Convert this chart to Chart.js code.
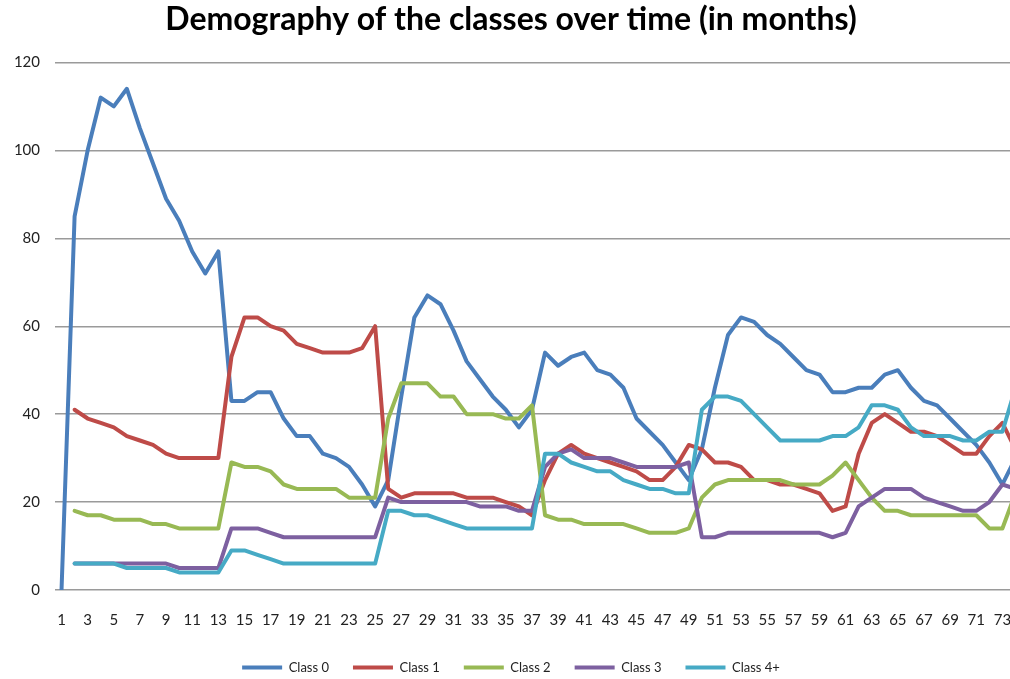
<!DOCTYPE html>
<html>
<head>
<meta charset="utf-8">
<script src="https://cdn.jsdelivr.net/npm/chart.js@4"></script>
<style>
    html, body { margin: 0; padding: 0; background: #fff; overflow: hidden; }
    #demoChart { display: block; }
</style>
</head>
<body>
<canvas id="demoChart" width="1032" height="679"></canvas>
<script>
// Months on the x axis (the chart is cut off after 73)
const months = [...Array(74)].map((_, i) => String(i + 1));

// Values
const class0 = [0, 85, 100, 112, 110, 114, 105, 97, 89, 84, 77, 72, 77, 43, 43, 45, 45, 39, 35, 35,
    31, 30, 28, 24, 19, 25, 44, 62, 67, 65, 59, 52, 48, 44, 41, 37, 41, 54, 51, 53,
    54, 50, 49, 46, 39, 36, 33, 29, 25, 32, 46, 58, 62, 61, 58, 56, 53, 50, 49, 45,
    45, 46, 46, 49, 50, 46, 43, 42, 39, 36, 33, 29, 24, 30];
const class1 = [null, 41, 39, 38, 37, 35, 34, 33, 31, 30, 30, 30, 30, 53, 62, 62, 60, 59, 56, 55,
    54, 54, 54, 55, 60, 23, 21, 22, 22, 22, 22, 21, 21, 21, 20, 19, 17, 25, 31, 33,
    31, 30, 29, 28, 27, 25, 25, 28, 33, 32, 29, 29, 28, 25, 25, 24, 24, 23, 22, 18,
    19, 31, 38, 40, 38, 36, 36, 35, 33, 31, 31, 35, 38, 32];
const class2 = [null, 18, 17, 17, 16, 16, 16, 15, 15, 14, 14, 14, 14, 29, 28, 28, 27, 24, 23, 23,
    23, 23, 21, 21, 21, 39, 47, 47, 47, 44, 44, 40, 40, 40, 39, 39, 42, 17, 16, 16,
    15, 15, 15, 15, 14, 13, 13, 13, 14, 21, 24, 25, 25, 25, 25, 25, 24, 24, 24, 26,
    29, 25, 21, 18, 18, 17, 17, 17, 17, 17, 17, 14, 14, 22];
const class3 = [null, 6, 6, 6, 6, 6, 6, 6, 6, 5, 5, 5, 5, 14, 14, 14, 13, 12, 12, 12,
    12, 12, 12, 12, 12, 21, 20, 20, 20, 20, 20, 20, 19, 19, 19, 18, 18, 28, 31, 32,
    30, 30, 30, 29, 28, 28, 28, 28, 29, 12, 12, 13, 13, 13, 13, 13, 13, 13, 13, 12,
    13, 19, 21, 23, 23, 23, 21, 20, 19, 18, 18, 20, 24, 23];
const class4 = [null, 6, 6, 6, 6, 5, 5, 5, 5, 4, 4, 4, 4, 9, 9, 8, 7, 6, 6, 6,
    6, 6, 6, 6, 6, 18, 18, 17, 17, 16, 15, 14, 14, 14, 14, 14, 14, 31, 31, 29,
    28, 27, 27, 25, 24, 23, 23, 22, 22, 41, 44, 44, 43, 40, 37, 34, 34, 34, 34, 35,
    35, 37, 42, 42, 41, 37, 35, 35, 35, 34, 34, 36, 36, 46];

const seriesNames = ['Class 0', 'Class 1', 'Class 2', 'Class 3', 'Class 4+'];
const seriesData = [class0, class1, class2, class3, class4];
const seriesColors = ['#4a7ebb', '#be4b48', '#98b954', '#7d60a0', '#46aac5'];

const baseFont = 'Lato, "Open Sans", sans-serif';

document.addEventListener('DOMContentLoaded', () => {
    const ctx = document.getElementById('demoChart').getContext('2d');

    // later series sit on top, like in the original
    const datasets = seriesNames.map((name, i) => ({
        label: name,
        data: seriesData[i],
        borderColor: seriesColors[i],
        backgroundColor: seriesColors[i],
        borderWidth: 4,
        pointRadius: 0,
        pointHoverRadius: 0,
        tension: 0,
        borderJoinStyle: 'round',
        borderCapStyle: 'round',
        spanGaps: false,
        order: seriesNames.length - i
    }));

    new Chart(ctx, {
        type: 'line',
        data: { labels: months, datasets: datasets },
        options: {
            responsive: false,
            animation: false,
            devicePixelRatio: 1,
            // canvas is wider than the window, so the right end gets cut like the original
            layout: { padding: { left: 0, right: 10, top: 0, bottom: -5 } },
            plugins: {
                title: {
                    display: true,
                    text: 'Demography of the classes over time (in months)',
                    color: '#000',
                    font: { family: baseFont, size: 32, weight: 'bold' },
                    padding: { top: 0, bottom: 24 }
                },
                legend: {
                    position: 'bottom',
                    labels: {
                        usePointStyle: true,
                        pointStyle: 'line',
                        pointStyleWidth: 40,
                        color: '#222',
                        font: { family: baseFont, size: 13 },
                        padding: 24,
                        sort: (a, b) => a.datasetIndex - b.datasetIndex
                    }
                },
                tooltip: { enabled: false }
            },
            scales: {
                x: {
                    offset: true,
                    afterFit: (scale) => {
                        scale.height = 47;
                        scale.paddingLeft = 0;
                        scale.paddingRight = 0;
                    },
                    grid: { display: false, drawTicks: false },
                    border: { display: false },
                    ticks: {
                        autoSkip: false,
                        maxRotation: 0,
                        padding: 21,
                        color: '#222',
                        font: { family: baseFont, size: 15 },
                        callback: function (value, index) {
                            return index % 2 === 0 ? this.getLabelForValue(value) : '';
                        }
                    }
                },
                y: {
                    min: 0,
                    max: 120,
                    afterFit: (scale) => { scale.width = 55; },
                    grid: { color: '#9a9a9a', lineWidth: 1.4, drawTicks: false },
                    border: { display: false },
                    ticks: {
                        stepSize: 20,
                        padding: 15,
                        color: '#222',
                        font: { family: baseFont, size: 15 }
                    }
                }
            }
        }
    });
});
</script>
</body>
</html>
